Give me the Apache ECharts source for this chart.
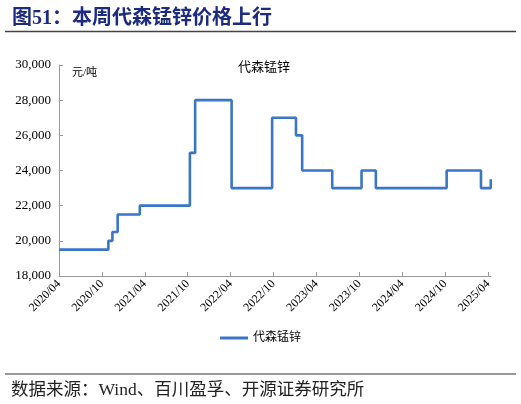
<!DOCTYPE html>
<html>
<head>
<meta charset="utf-8">
<script src="https://cdn.jsdelivr.net/npm/echarts@6/dist/echarts.min.js"></script>
<style>
  html, body { margin: 0; padding: 0; background: #fff; }
  #chart { width: 521px; height: 404px; }
</style>
</head>
<body>
<div id="chart"></div>
<script>
// 价格变动日期及变动后价格（元/吨）
var changeDates = ['2020-04-01', '2020-10-28', '2020-11-15', '2020-12-07', '2021-03-10',
                   '2021-10-10', '2021-11-02', '2022-04-05', '2022-09-25', '2023-01-05',
                   '2023-02-01', '2023-06-07', '2023-10-10', '2023-12-10', '2024-10-07',
                   '2025-03-01', '2025-04-12'];
var prices = [19500, 20000, 20500, 21500, 22000,
              25000, 28000, 23000, 27000, 26000,
              24000, 23000, 24000, 23000, 24000,
              23000, 23500];
var tickLabels = ['2020/04', '2020/10', '2021/04', '2021/10', '2022/04', '2022/10',
                  '2023/04', '2023/10', '2024/04', '2024/10', '2025/04'];
var seriesName = '代森锰锌';

// 日期 -> 距 2020/04 的月数
function toMonth(s) {
  var p = s.split('-');
  return (+p[0] - 2020) * 12 + (+p[1] - 4) + (+p[2] - 1) / 30;
}
var data = changeDates.map(function (d, i) { return [toMonth(d), prices[i]]; });
var tickValues = tickLabels.map(function (t, i) { return i * 6; });

var serif = '"Liberation Serif", "Noto Sans CJK SC", serif';
var chart = echarts.init(document.getElementById('chart'));
chart.setOption({
  animation: false,
  textStyle: { fontFamily: serif },
  title: [
    { text: '图51：本周代森锰锌价格上行', left: 7, top: 4,
      textStyle: { fontSize: 20, fontWeight: 'bold', color: '#1c2a80', fontFamily: serif } },
    { text: seriesName, left: 259, top: 56, textAlign: 'center',
      textStyle: { fontSize: 13, fontWeight: 'normal', color: '#000', fontFamily: serif } },
    { text: '元/吨', left: 67, top: 63,
      textStyle: { fontSize: 11, fontWeight: 'normal', color: '#000', fontFamily: serif } },
    { text: '数据来源：Wind、百川盈孚、开源证券研究所', left: 6, top: 377,
      textStyle: { fontSize: 17.5, fontWeight: 'normal', color: '#222', fontFamily: serif } }
  ],
  graphic: [
    { type: 'line', shape: { x1: 5, y1: 31.5, x2: 516, y2: 31.5 },
      style: { stroke: '#444', lineWidth: 1.5 } },
    { type: 'line', shape: { x1: 5, y1: 374, x2: 516, y2: 374 },
      style: { stroke: '#777', lineWidth: 1.5 } }
  ],
  legend: {
    bottom: 55, left: 'center',
    itemWidth: 28, itemHeight: 3,
    icon: 'rect',
    textStyle: { fontSize: 12, color: '#000', fontFamily: serif },
    data: [seriesName]
  },
  grid: { left: 59, right: 30, top: 65, bottom: 128 },
  xAxis: {
    type: 'value', min: 0, max: 60.4, interval: 6,
    splitLine: { show: false },
    axisLine: { lineStyle: { color: '#999' } },
    axisTick: { inside: true, length: 4, lineStyle: { color: '#999' }, customValues: tickValues },
    axisLabel: {
      rotate: 45, fontSize: 12, color: '#000', margin: 6, fontFamily: serif,
      customValues: tickValues,
      formatter: function (v) { return tickLabels[Math.round(v / 6)] || ''; }
    }
  },
  yAxis: {
    type: 'value', min: 18000, max: 30000, interval: 2000,
    splitLine: { show: false },
    axisLine: { show: true, lineStyle: { color: '#999' } },
    axisTick: { show: true, inside: true, length: 4, lineStyle: { color: '#999' } },
    axisLabel: {
      fontSize: 13, color: '#000', margin: 8, fontFamily: serif,
      formatter: function (v) { return v.toLocaleString('en-US'); }
    }
  },
  series: [{
    name: seriesName,
    type: 'line',
    step: 'end',
    showSymbol: false,
    data: data,
    lineStyle: { color: '#3a76c6', width: 2.6 },
    itemStyle: { color: '#3a76c6' }
  }]
});
</script>
</body>
</html>
